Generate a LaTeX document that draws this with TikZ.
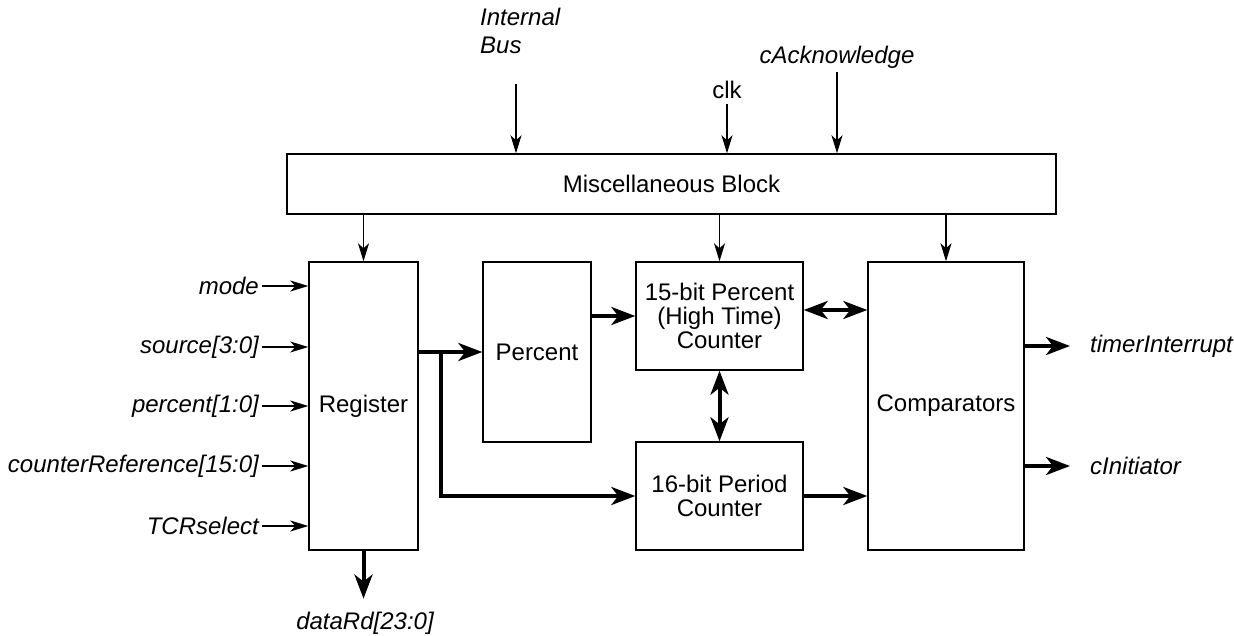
\documentclass[tikz,border=0pt]{standalone}
\usepackage{fontspec}
\setmainfont{Liberation Sans}
\usepackage{xcolor}
\usetikzlibrary{arrows.meta}
\usetikzlibrary{calc,positioning}

\tikzset{
    txt/.style={font=\fontsize{24pt}{24pt}\selectfont, inner sep=3pt},
    sig/.style={txt, font=\fontsize{24pt}{28pt}\selectfont\itshape},
    blk/.style={txt, draw, line width=1.4pt, inner sep=0pt, align=center},
    wire/.style={line width=1.3pt, -{Stealth[length=18pt,width=11pt,inset=5pt]}},
    bus/.style={line width=4pt, -{Stealth[length=24pt,width=18pt,inset=7pt]}},
    dbus/.style={line width=4pt, {Stealth[length=24pt,width=18pt,inset=7pt]}-{Stealth[length=24pt,width=18pt,inset=7pt]}}
}

\begin{document}
\begin{tikzpicture}[x=1pt,y=-1pt]

    \useasboundingbox (0,0) rectangle (1234,636);

    % Blocks
    \node[blk, minimum width=769, minimum height=60] (misc) at (671.5,184) {Miscellaneous Block};
    \node[blk, minimum width=109, minimum height=288] (reg) at (363.5,406) {Register};
    \node[blk, minimum width=108, minimum height=180] (pct) at (537,352) {Percent};
    \node[blk, minimum width=167, minimum height=108] (hi) at (719.5,316) {15-bit Percent\\(High Time)\\Counter};
    \node[blk, minimum width=167, minimum height=108] (per) at (719.5,496) {16-bit Period\\Counter};
    \node[blk, minimum width=156, minimum height=288] (cmp) at (946,406) {Comparators};

    % Top inputs
    \node[sig, anchor=west, align=left] (bus) at (477,31) {Internal\\Bus};
    \coordinate (busIn) at (516,84);
    \draw[wire] (busIn) -- (busIn |- misc.north);
    \node[txt, inner sep=5pt] (clk) at (727,90) {clk};
    \draw[wire] (clk.south) -- (clk.south |- misc.north);
    \node[sig, inner sep=4pt] (ack) at (837,57) {cAcknowledge};
    \draw[wire] (ack.south) -- (ack.south |- misc.north);

    % Misc to blocks
    \foreach \b in {reg,hi,cmp} {
        \draw[wire] (misc.south -| \b) -- (\b.north);
    }

    % Register inputs
    \foreach \lbl/\y/\nm in {mode/286/mode, {source[3:0]}/347/src, {percent[1:0]}/406/pin,
                             {counterReference[15:0]}/466/cref, TCRselect/526/tcr} {
        \node[sig, anchor=east] (\nm) at (262,\y) {\lbl};
        \draw[wire] (\nm.east) -- (\nm.east -| reg.west);
    }

    % Register out
    \node[sig] (drd) at (365,623) {dataRd[23:0]};
    \draw[bus] (reg.south) -- ([yshift=10pt]drd.north -| reg.south);
    \draw[bus] (pct.west -| reg.east) -- (pct.west);
    \coordinate (br) at (441,352);
    \draw[bus] (br) |- (per.west);

    % Counters
    \draw[bus] (pct.east |- hi) -- (hi.west);
    \draw[dbus] ([yshift=6pt]hi.east) -- ([yshift=6pt]hi.east -| cmp.west);
    \draw[dbus] (hi.south) -- (per.north);
    \draw[bus] (per.east) -- (per.east -| cmp.west);

    % Outputs
    \node[sig, anchor=west] (tint) at (1087,346) {timerInterrupt};
    \node[sig, anchor=west] (cini) at (1087,466) {cInitiator};
    \draw[bus] (tint.west -| cmp.east) -- ([xshift=-17pt]tint.west);
    \draw[bus] (cini.west -| cmp.east) -- ([xshift=-17pt]cini.west);

\end{tikzpicture}
\end{document}
